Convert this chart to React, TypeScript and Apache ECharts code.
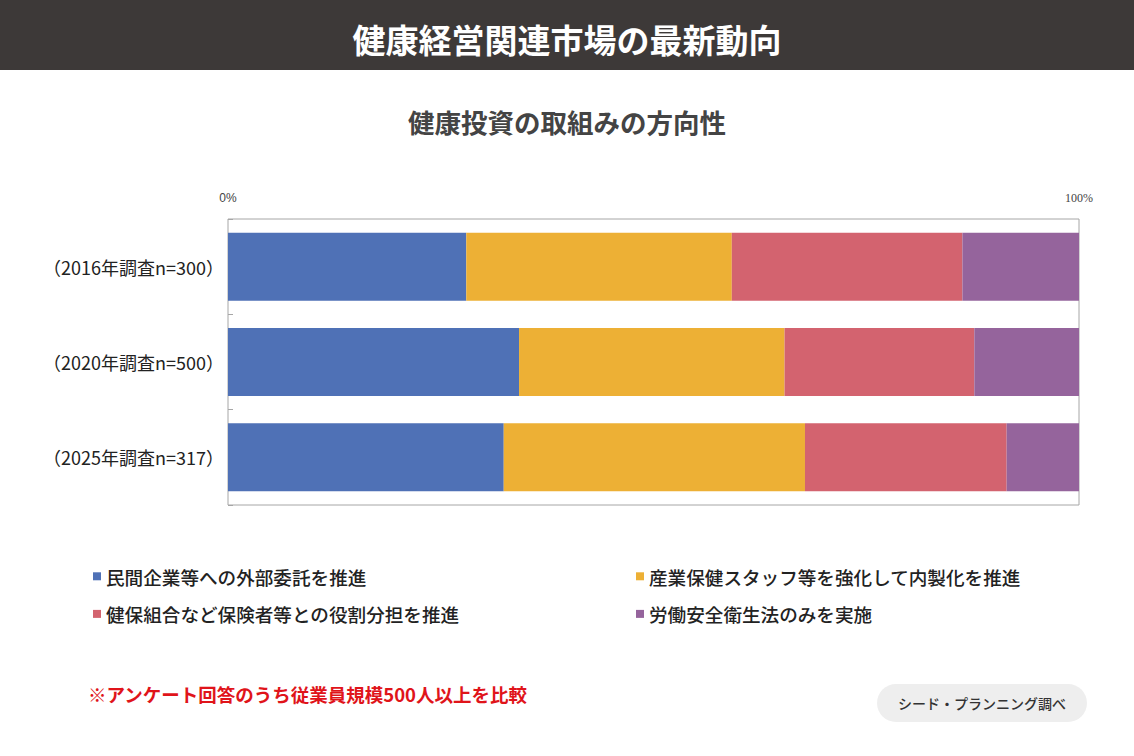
import React, { useEffect, useRef } from "react";
import * as echarts from "echarts";

const categories = ["（2016年調査n=300）", "（2020年調査n=500）", "（2025年調査n=317）"];
const seriesNames = [
  "民間企業等への外部委託を推進",
  "産業保健スタッフ等を強化して内製化を推進",
  "健保組合など保険者等との役割分担を推進",
  "労働安全衛生法のみを実施",
];
const outsourcing = [28.0, 34.2, 32.4];
const inHouse = [31.2, 31.2, 35.4];
const insurer = [27.1, 22.3, 23.7];
const lawOnly = [13.7, 12.3, 8.5];
const colors = ["#4f71b6", "#edb035", "#d3636f", "#95649c"];
const axisTicks = [0, 100];

const FONT = "'Noto Sans CJK JP', 'Noto Sans', sans-serif";

export default function App() {
  const ref = useRef<HTMLDivElement>(null);
  useEffect(() => {
    if (!ref.current) return;
    const chart = echarts.init(ref.current, undefined, { renderer: "svg" });
    const values = [outsourcing, inHouse, insurer, lawOnly];
    const legendText = { fontSize: 18.6, color: "#222", fontFamily: FONT, fontWeight: 500 };
    chart.setOption({
      animation: false,
      backgroundColor: "#ffffff",
      textStyle: { fontFamily: FONT },
      grid: {
        left: 228,
        top: 219,
        right: 55,
        bottom: 251,
        show: true,
        borderColor: "#a6a6a6",
        borderWidth: 1,
        backgroundColor: "transparent",
      },
      xAxis: {
        type: "value",
        position: "top",
        min: axisTicks[0],
        max: axisTicks[1],
        interval: 100,
        axisLine: { show: false },
        axisTick: { show: false },
        splitLine: { show: false },
        axisLabel: {
          margin: 15,
          formatter: (v: number) => (v === 0 ? `{a|${v}%}` : `{b|${v}%}`),
          rich: {
            a: { fontFamily: "'Liberation Sans', sans-serif", fontSize: 12, color: "#444" },
            b: { fontFamily: "'Liberation Serif', serif", fontSize: 12, color: "#444" },
          },
        },
      },
      yAxis: {
        type: "category",
        inverse: true,
        data: categories,
        axisLine: { show: false },
        axisTick: { show: true, inside: true, length: 5, lineStyle: { color: "#a6a6a6" } },
        axisLabel: { margin: 4, fontSize: 18, color: "#222", fontFamily: FONT },
      },
      legend: [
        {
          left: 88,
          top: 562,
          orient: "vertical",
          icon: "rect",
          itemWidth: 8,
          itemHeight: 8,
          itemGap: 19,
          data: [seriesNames[0], seriesNames[2]],
          textStyle: legendText,
        },
        {
          left: 631,
          top: 562,
          orient: "vertical",
          icon: "rect",
          itemWidth: 8,
          itemHeight: 8,
          itemGap: 19,
          data: [seriesNames[1], seriesNames[3]],
          textStyle: legendText,
        },
      ],
      series: seriesNames.map((name, i) => ({
        type: "bar",
        name,
        stack: "total",
        barWidth: 68,
        data: values[i],
        itemStyle: { color: colors[i] },
      })),
      graphic: [
        {
          type: "rect",
          left: 0,
          top: 0,
          shape: { width: 1134, height: 70 },
          style: { fill: "#3d3938" },
        },
        {
          type: "text",
          x: 567,
          y: 39,
          style: {
            text: "健康経営関連市場の最新動向",
            fill: "#ffffff",
            font: `bold 33px ${FONT}`,
            textAlign: "center",
            textVerticalAlign: "middle",
          },
        },
        {
          type: "text",
          x: 567,
          y: 121,
          style: {
            text: "健康投資の取組みの方向性",
            fill: "#444444",
            font: `bold 26.5px ${FONT}`,
            textAlign: "center",
            textVerticalAlign: "middle",
          },
        },
        {
          type: "text",
          x: 88,
          y: 694,
          style: {
            text: "※アンケート回答のうち従業員規模500人以上を比較",
            fill: "#e0141a",
            font: `bold 18.5px ${FONT}`,
            textAlign: "left",
            textVerticalAlign: "middle",
          },
        },
        {
          type: "rect",
          x: 877,
          y: 684,
          shape: { width: 210, height: 38, r: 19 },
          style: { fill: "#eeeeee" },
        },
        {
          type: "text",
          x: 982,
          y: 703,
          style: {
            text: "シード・プランニング調べ",
            fill: "#333333",
            font: `500 14px ${FONT}`,
            textAlign: "center",
            textVerticalAlign: "middle",
          },
        },
      ],
    });
    return () => chart.dispose();
  }, []);
  return (
    <div
      ref={ref}
      style={{ position: "fixed", left: 0, top: 0, width: 1134, height: 756 }}
    />
  );
}
